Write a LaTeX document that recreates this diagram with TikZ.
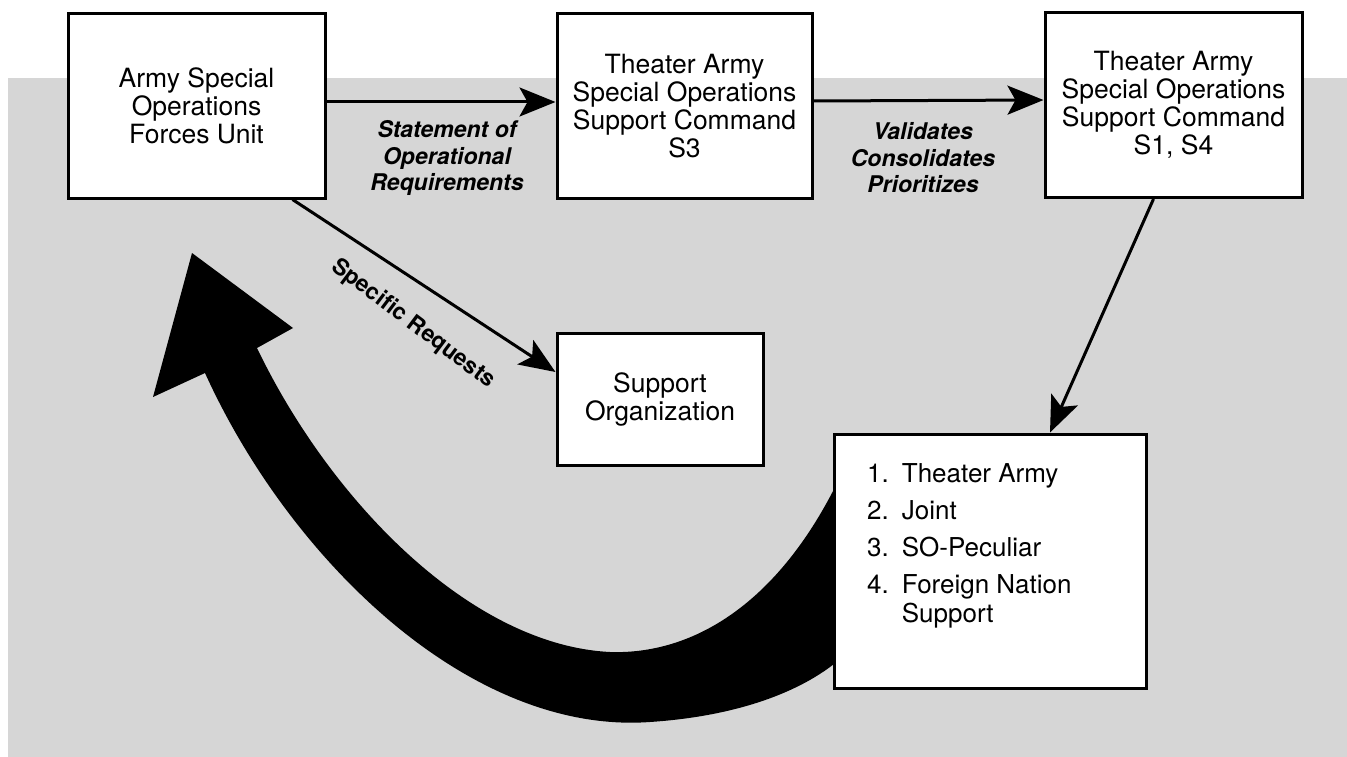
\documentclass[tikz,border=0pt]{standalone}
\usepackage{fontspec}
\setmainfont{TeX Gyre Heros}
\usetikzlibrary{arrows.meta,positioning}

\begin{document}
\begin{tikzpicture}[
    x=1pt,y=-1pt,
    >={Stealth[length=36pt,width=29pt,inset=8pt]},
    box/.style={draw,line width=3pt,fill=white,align=center,inner sep=0pt,
                font=\fontsize{26.5}{28}\selectfont},
    flow/.style={->,line width=3pt},
    lbl/.style={font=\fontsize{23}{26.5}\selectfont\bfseries\itshape,align=center}
]

\useasboundingbox (0,0) rectangle (1347,757);

% shaded backdrop
\fill[black!16] (8,78) rectangle (1347,757);

% command boxes
\node[box,minimum width=257,minimum height=184] (sof)   at (196.5,106) {Army Special\\Operations\\Forces Unit};
\node[box,minimum width=255,minimum height=184] (tsc3)  at (684.5,106) {Theater Army\\Special Operations\\Support Command\\S3};
\node[box,minimum width=257,minimum height=185] (tsc14) at (1173.5,105) {Theater Army\\Special Operations\\Support Command\\S1, S4};
\node[box,minimum width=206,minimum height=132] (sup)   at (660,399) {Support\\Organization};

% big return arrow
\fill (205,373) .. controls (290,560) and (470,735) .. (650,722)
      .. controls (740,716) and (810,690) .. (850,650) -- (850,455)
      .. controls (790,595) and (700,655) .. (610,652)
      .. controls (470,645) and (330,500) .. (257,348)
      -- (293,328) -- (192,253) -- (153,397) -- cycle;

% sources box
\node[box,minimum width=312,minimum height=254] (src) at (990,561) {};
\node[anchor=north west,inner sep=0pt,font=\fontsize{26}{29}\selectfont] (srclist) at (867,462) {%
  \begin{tabular}{@{}l@{\hspace{13pt}}l@{}}
  1. & Theater Army\\[8pt]
  2. & Joint\\[8pt]
  3. & SO-Peculiar\\[8pt]
  4. & Foreign Nation\\
     & Support
  \end{tabular}};

% arrows
\draw[flow] ([yshift=4pt]sof.east) -- ([yshift=4pt]tsc3.west);
\draw[flow] ([yshift=5pt]tsc3.east) -- ([yshift=5pt]tsc14.west);
\draw[flow] ([xshift=-20pt]tsc14.south) -- ([xshift=60pt]src.north);
\draw[flow] ([xshift=96pt]sof.south) -- ([yshift=27pt]sup.west);

% arrow labels
\node[lbl] (sor) at (447,158) {Statement of\\Operational\\Requirements};
\node[lbl] (vcp) at (923,158) {Validates\\Consolidates\\Prioritizes};
\node[font=\fontsize{23}{26}\selectfont\bfseries,rotate=-37] (spec) at (413,324) {Specific Requests};

\end{tikzpicture}
\end{document}
